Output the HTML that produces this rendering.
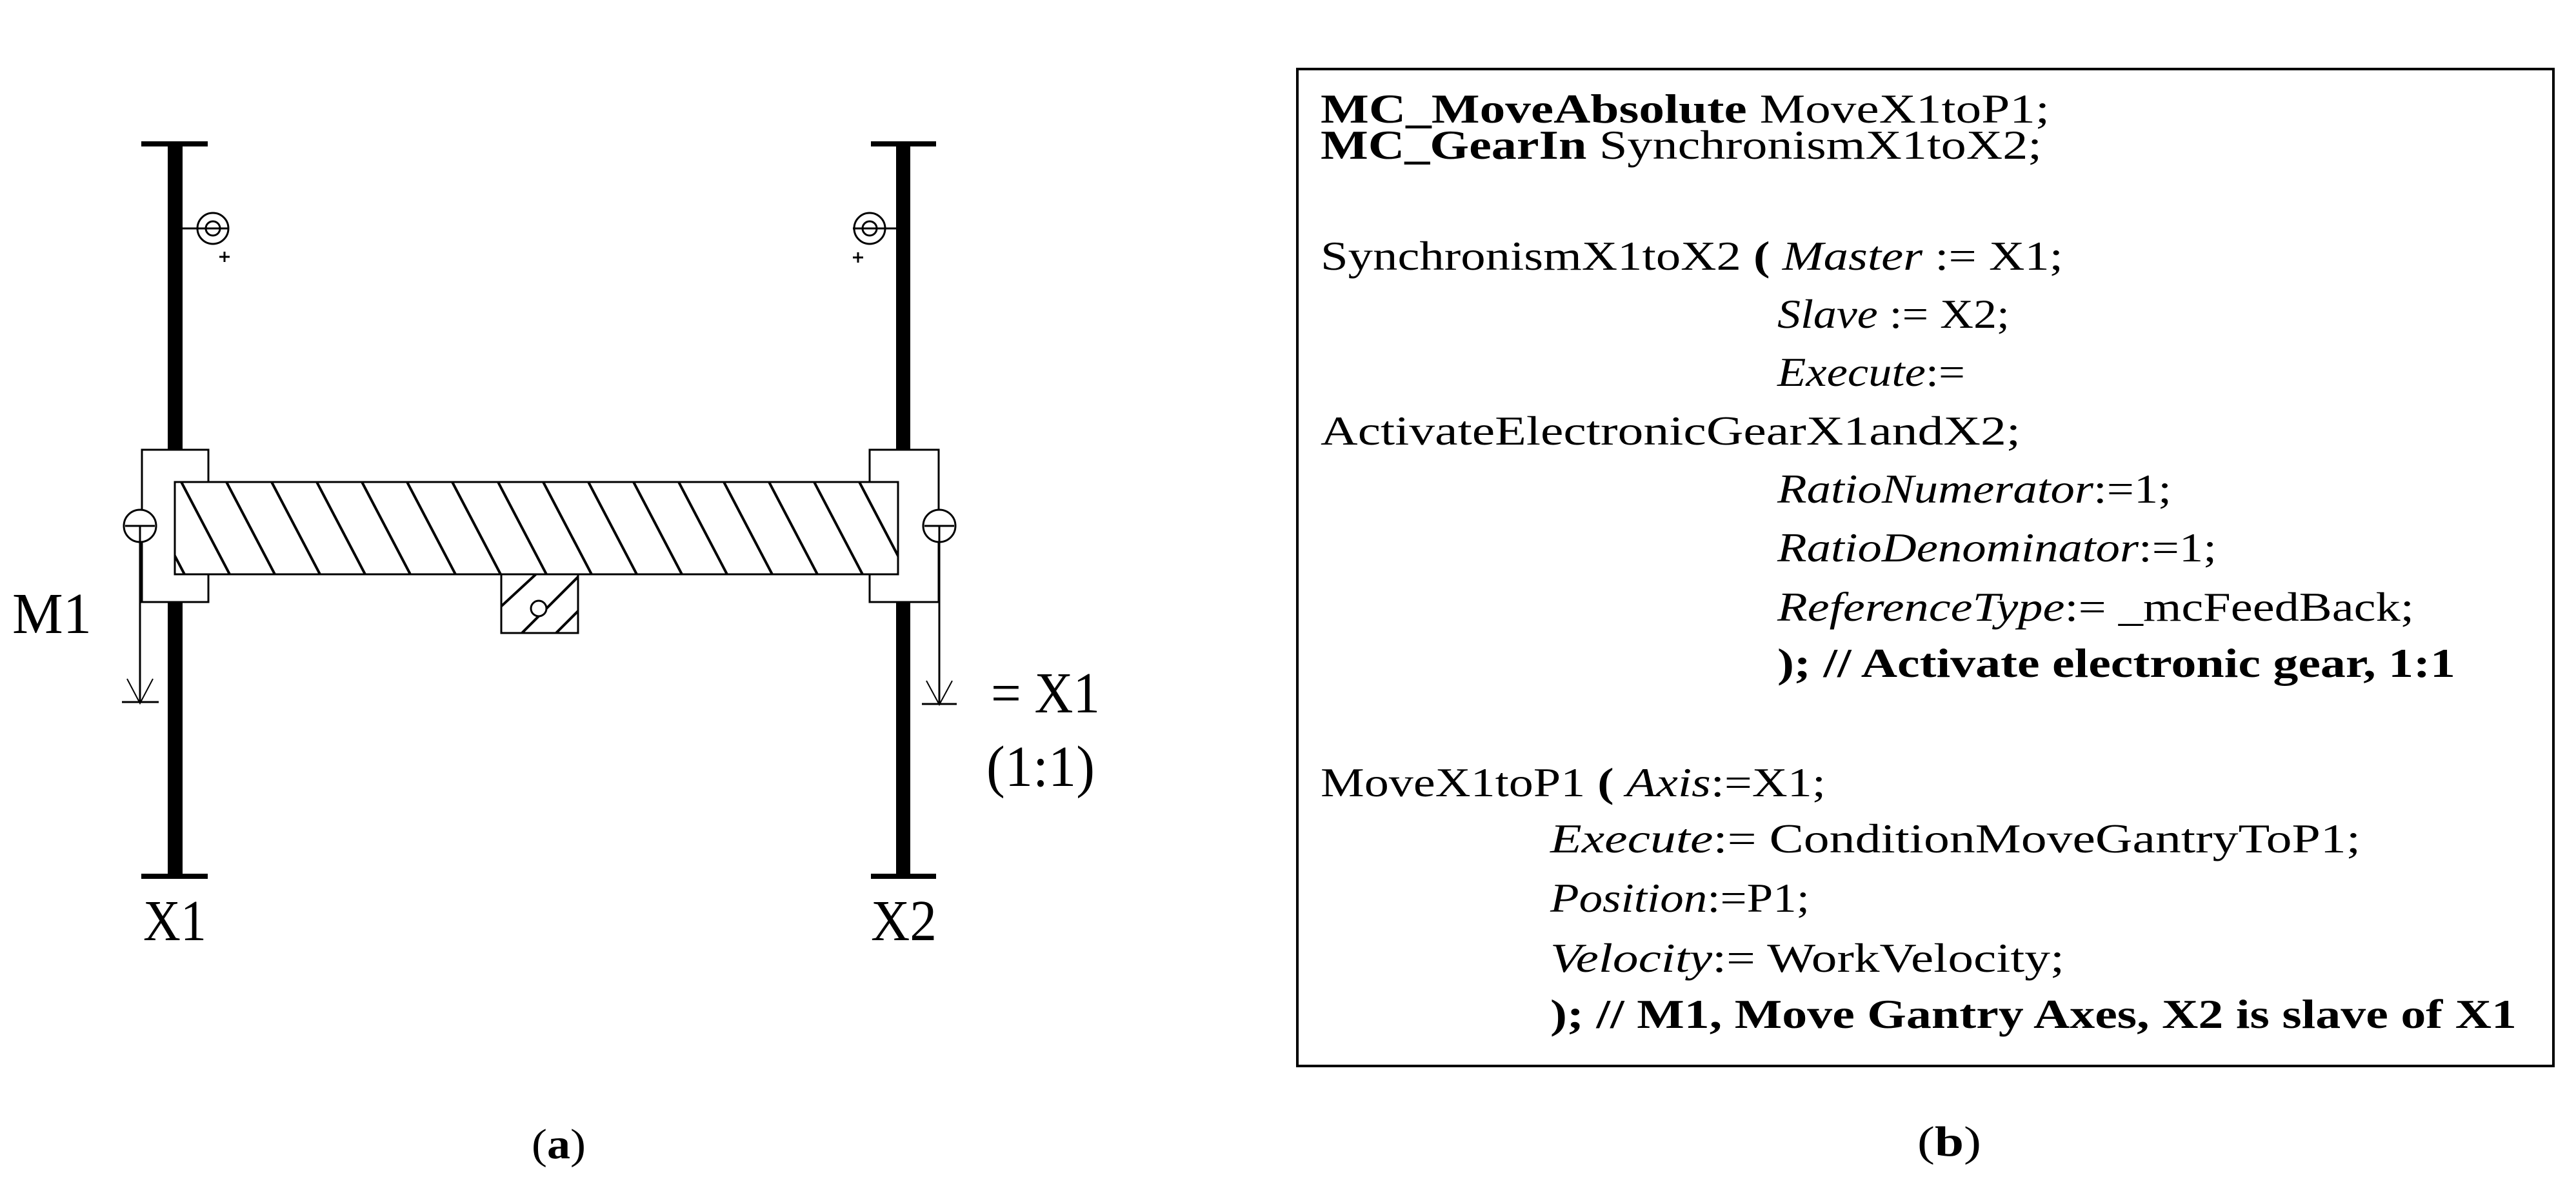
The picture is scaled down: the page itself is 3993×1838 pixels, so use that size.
<!DOCTYPE html>
<html><head><meta charset="utf-8"><style>
html,body{margin:0;padding:0;background:#fff}
svg{display:block}
text{font-family:"Liberation Serif",serif;fill:#000}
</style></head><body>
<svg width="3993" height="1838" viewBox="0 0 3993 1838" xmlns="http://www.w3.org/2000/svg">
<defs>
<clipPath id="beam"><rect x="271" y="747" width="1121" height="143"/></clipPath>
<clipPath id="sq"><rect x="777" y="890" width="119" height="91"/></clipPath>
</defs>
<rect x="260" y="222" width="23" height="1140" fill="#000"/>
<rect x="219" y="219" width="103" height="8" fill="#000"/>
<rect x="219" y="1354" width="103" height="8" fill="#000"/>
<rect x="1389" y="222" width="22" height="1140" fill="#000"/>
<rect x="1350" y="219" width="101" height="8" fill="#000"/>
<rect x="1350" y="1354" width="101" height="8" fill="#000"/>
<g fill="none" stroke="#000" stroke-width="3">
<line x1="283" y1="354" x2="355" y2="354"/>
<circle cx="330" cy="354" r="24"/>
<circle cx="330" cy="354" r="11"/>
<line x1="340" y1="398" x2="356" y2="398"/><line x1="348" y1="390" x2="348" y2="406"/>
<line x1="1322" y1="354" x2="1389" y2="354"/>
<circle cx="1348" cy="354" r="24"/>
<circle cx="1348" cy="354" r="11"/>
<line x1="1322" y1="399" x2="1338" y2="399"/><line x1="1330" y1="391" x2="1330" y2="407"/>
</g>
<rect x="220" y="697" width="103" height="236" fill="#fff" stroke="#000" stroke-width="3"/>
<rect x="1348" y="697" width="107" height="236" fill="#fff" stroke="#000" stroke-width="3"/>
<rect x="271" y="747" width="1121" height="143" fill="#fff"/>
<g clip-path="url(#beam)" stroke="#000" stroke-width="4">
<line x1="141" y1="747" x2="216" y2="890"/>
<line x1="211" y1="747" x2="286" y2="890"/>
<line x1="281" y1="747" x2="356" y2="890"/>
<line x1="351" y1="747" x2="426" y2="890"/>
<line x1="421" y1="747" x2="496" y2="890"/>
<line x1="491" y1="747" x2="566" y2="890"/>
<line x1="561" y1="747" x2="636" y2="890"/>
<line x1="631" y1="747" x2="706" y2="890"/>
<line x1="701" y1="747" x2="776" y2="890"/>
<line x1="772" y1="747" x2="847" y2="890"/>
<line x1="842" y1="747" x2="917" y2="890"/>
<line x1="912" y1="747" x2="987" y2="890"/>
<line x1="982" y1="747" x2="1057" y2="890"/>
<line x1="1052" y1="747" x2="1127" y2="890"/>
<line x1="1122" y1="747" x2="1197" y2="890"/>
<line x1="1192" y1="747" x2="1267" y2="890"/>
<line x1="1262" y1="747" x2="1337" y2="890"/>
<line x1="1332" y1="747" x2="1407" y2="890"/>
</g>
<rect x="271" y="747" width="1121" height="143" fill="none" stroke="#000" stroke-width="3"/>
<rect x="777" y="890" width="119" height="91" fill="#fff"/>
<g clip-path="url(#sq)" stroke="#000" stroke-width="4">
<line x1="770" y1="946" x2="835" y2="886"/>
<line x1="805" y1="985" x2="898" y2="892"/>
<line x1="858" y1="985" x2="900" y2="943"/>
</g>
<circle cx="835" cy="943" r="12" fill="#fff" stroke="#000" stroke-width="3"/>
<rect x="777" y="890" width="119" height="91" fill="none" stroke="#000" stroke-width="3"/>
<g fill="none" stroke="#000" stroke-width="3">
<circle cx="217" cy="815" r="25" fill="#fff"/>
<line x1="194" y1="815" x2="240" y2="815"/>
<line x1="217" y1="815" x2="217" y2="1088"/>
<polyline points="197,1052 217,1090 237,1052" stroke-width="2"/>
<line x1="189" y1="1088" x2="246" y2="1088"/>
<circle cx="1456" cy="815" r="25" fill="#fff"/>
<line x1="1433" y1="815" x2="1479" y2="815"/>
<line x1="1456" y1="815" x2="1456" y2="1091"/>
<polyline points="1436,1055 1456,1092 1476,1055" stroke-width="2"/>
<line x1="1429" y1="1091" x2="1483" y2="1091"/>
</g>
<text x="19" y="981" font-size="90" textLength="123" lengthAdjust="spacingAndGlyphs">M1</text>
<text x="1536" y="1104" font-size="90" textLength="169" lengthAdjust="spacingAndGlyphs">= X1</text>
<text x="1529" y="1218" font-size="90" textLength="168" lengthAdjust="spacingAndGlyphs">(1:1)</text>
<text x="222" y="1457" font-size="90" textLength="98" lengthAdjust="spacingAndGlyphs">X1</text>
<text x="1350" y="1457" font-size="90" textLength="102" lengthAdjust="spacingAndGlyphs">X2</text>
<text x="824" y="1795" font-size="66" textLength="84" lengthAdjust="spacingAndGlyphs">(<tspan font-weight="bold">a</tspan>)</text>
<text x="2972" y="1791" font-size="66" textLength="99" lengthAdjust="spacingAndGlyphs">(<tspan font-weight="bold">b</tspan>)</text>
<rect x="2011" y="107" width="1947" height="1545" fill="none" stroke="#000" stroke-width="4"/>
<g font-size="64">
<text x="2047" y="190" textLength="1130" lengthAdjust="spacingAndGlyphs"><tspan font-weight="bold">MC_MoveAbsolute</tspan> MoveX1toP1;</text>
<text x="2047" y="246" textLength="1118" lengthAdjust="spacingAndGlyphs"><tspan font-weight="bold">MC_GearIn</tspan> SynchronismX1toX2;</text>
<text x="2047" y="418" textLength="1151" lengthAdjust="spacingAndGlyphs">SynchronismX1toX2 <tspan font-weight="bold">(</tspan> <tspan font-style="italic">Master</tspan> := X1;</text>
<text x="2755" y="508" textLength="360" lengthAdjust="spacingAndGlyphs"><tspan font-style="italic">Slave</tspan> := X2;</text>
<text x="2755" y="598" textLength="291" lengthAdjust="spacingAndGlyphs"><tspan font-style="italic">Execute</tspan>:=</text>
<text x="2047" y="689" textLength="1085" lengthAdjust="spacingAndGlyphs">ActivateElectronicGearX1andX2;</text>
<text x="2755" y="779" textLength="611" lengthAdjust="spacingAndGlyphs"><tspan font-style="italic">RatioNumerator</tspan>:=1;</text>
<text x="2755" y="870" textLength="681" lengthAdjust="spacingAndGlyphs"><tspan font-style="italic">RatioDenominator</tspan>:=1;</text>
<text x="2755" y="962" textLength="987" lengthAdjust="spacingAndGlyphs"><tspan font-style="italic">ReferenceType</tspan>:= _mcFeedBack;</text>
<text x="2755" y="1049" textLength="1051" lengthAdjust="spacingAndGlyphs" font-weight="bold">); // Activate electronic gear, 1:1</text>
<text x="2047" y="1234" textLength="783" lengthAdjust="spacingAndGlyphs">MoveX1toP1 <tspan font-weight="bold">(</tspan> <tspan font-style="italic">Axis</tspan>:=X1;</text>
<text x="2403" y="1321" textLength="1256" lengthAdjust="spacingAndGlyphs"><tspan font-style="italic">Execute</tspan>:= ConditionMoveGantryToP1;</text>
<text x="2403" y="1413" textLength="402" lengthAdjust="spacingAndGlyphs"><tspan font-style="italic">Position</tspan>:=P1;</text>
<text x="2403" y="1506" textLength="797" lengthAdjust="spacingAndGlyphs"><tspan font-style="italic">Velocity</tspan>:= WorkVelocity;</text>
<text x="2403" y="1593" textLength="1498" lengthAdjust="spacingAndGlyphs" font-weight="bold">); // M1, Move Gantry Axes, X2 is slave of X1</text>
</g>
</svg>
</body></html>
